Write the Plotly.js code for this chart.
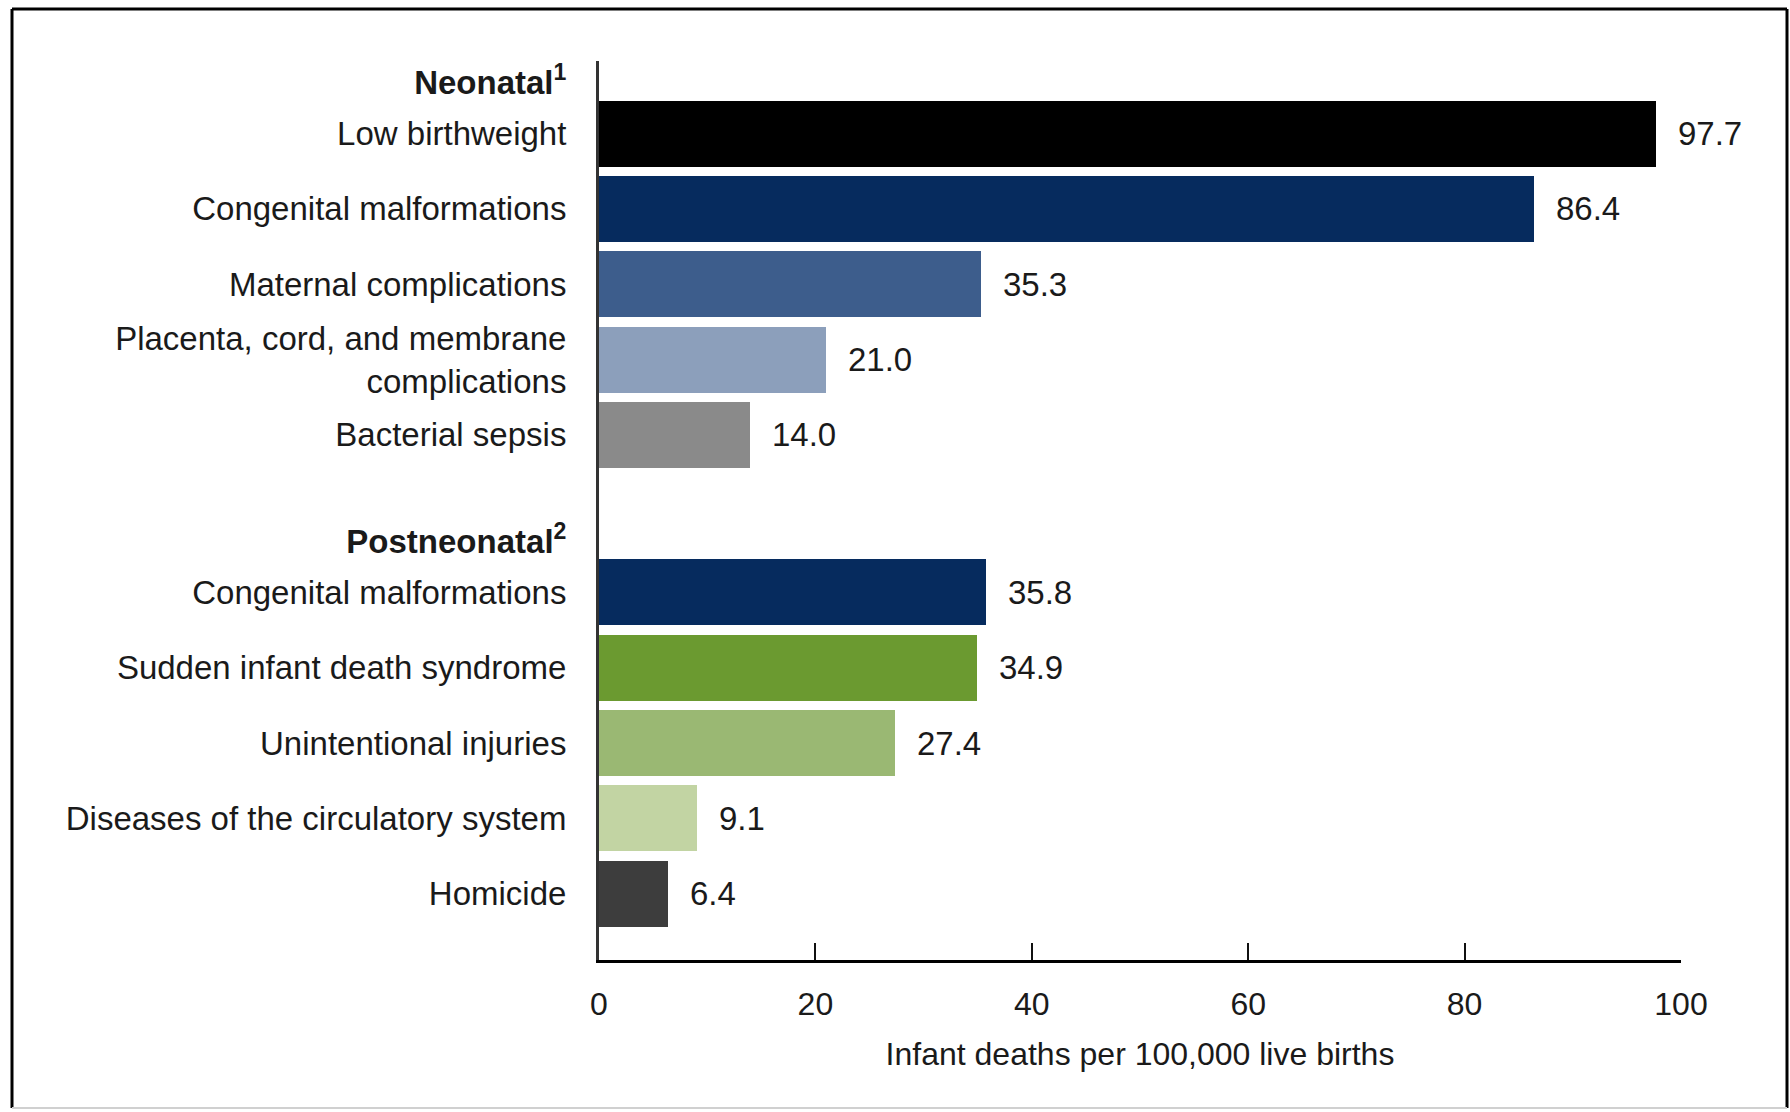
<!DOCTYPE html>
<html>
<head>
<meta charset="utf-8">
<script src="https://cdn.plot.ly/plotly-3.0.1.min.js"></script>
<style>
  html, body { margin: 0; padding: 0; background: #ffffff; }
  #chart { width: 1790px; height: 1112px; }
</style>
</head>
<body>
<div id="chart"></div>
<script>
// ---- Data ----
const groupHeaders = ["Neonatal<sup>1</sup>", "Postneonatal<sup>2</sup>"];
const neonatalCauses = [
  "Low birthweight",
  "Congenital malformations",
  "Maternal complications",
  "Placenta, cord, and membrane<br>complications",
  "Bacterial sepsis"
];
const neonatalRates = [97.7, 86.4, 35.3, 21.0, 14.0];
const postneonatalCauses = [
  "Congenital malformations",
  "Sudden infant death syndrome",
  "Unintentional injuries",
  "Diseases of the circulatory system",
  "Homicide"
];
const postneonatalRates = [35.8, 34.9, 27.4, 9.1, 6.4];
const xTickValues = [0, 20, 40, 60, 80, 100];
const xAxisTitle = "Infant deaths per 100,000 live births";

// ---- Styles ----
const neonatalColors = ["#000000", "#062b5e", "#3d5d8c", "#8c9fbb", "#8a8a8a"];
const postneonatalColors = ["#062b5e", "#6b9a30", "#9ab873", "#c2d4a3", "#3d3d3d"];
const FONT = "Liberation Sans, Arial, Helvetica, sans-serif";
const TXT = "#1a1a1a";

// ---- Layout positions (computed) ----
const groupGap = 6.09;        // slot where the second group starts
const headerOffset = -0.68;   // header sits above first bar of group
const posNeo = neonatalCauses.map((_, i) => i);
const posPost = postneonatalCauses.map((_, i) => groupGap + i);

const yPos = posNeo.concat(posPost);
const xVals = neonatalRates.concat(postneonatalRates);
const colors = neonatalColors.concat(postneonatalColors);

const tickvals = [posNeo[0] + headerOffset].concat(posNeo, [posPost[0] + headerOffset], posPost);
const ticktext = ["<b>" + groupHeaders[0] + "</b>"].concat(neonatalCauses,
                  ["<b>" + groupHeaders[1] + "</b>"], postneonatalCauses);

const W = 1790, H = 1112;
const M = { l: 599, r: 109, t: 61, b: 152 };
const pw = W - M.l - M.r, ph = H - M.t - M.b;
const px2x = p => (p - M.l) / pw;
const py2y = p => 1 - (p - M.t) / ph;

const trace = {
  type: "bar",
  orientation: "h",
  x: xVals,
  y: yPos,
  width: 0.876,
  marker: { color: colors, line: { width: 0 } },
  hoverinfo: "x",
  showlegend: false
};

const annotations = xVals.map((v, i) => ({
  x: v, y: yPos[i], xref: "x", yref: "y",
  text: v.toFixed(1),
  showarrow: false,
  xanchor: "left", yanchor: "middle",
  xshift: 20,
  font: { family: FONT, size: 33, color: TXT }
}));

const border = { type: "line", xref: "paper", yref: "paper", layer: "above" };
const shapes = [
  Object.assign({}, border, { x0: px2x(12), x1: px2x(1787), y0: py2y(9), y1: py2y(9), line: { color: "#000", width: 3 } }),
  Object.assign({}, border, { x0: px2x(12), x1: px2x(12), y0: py2y(9), y1: py2y(1108), line: { color: "#000", width: 3 } }),
  Object.assign({}, border, { x0: px2x(1787), x1: px2x(1787), y0: py2y(9), y1: py2y(1108), line: { color: "#000", width: 3 } }),
  Object.assign({}, border, { x0: px2x(12), x1: px2x(1787), y0: py2y(1108), y1: py2y(1108), line: { color: "#d0d0d0", width: 2 } })
];

const layout = {
  width: W, height: H,
  margin: M,
  paper_bgcolor: "#ffffff",
  plot_bgcolor: "#ffffff",
  font: { family: FONT, color: TXT },
  xaxis: {
    range: [0, 100],
    tickvals: xTickValues,
    ticktext: xTickValues.map(String),
    ticks: "inside",
    ticklen: 17,
    tickwidth: 2,
    tickcolor: "#111",
    showline: true,
    linecolor: "#000",
    linewidth: 3,
    showgrid: false,
    zeroline: false,
    tickfont: { family: FONT, size: 32, color: TXT },
    ticklabelstandoff: 14,
    title: { text: xAxisTitle, font: { family: FONT, size: 32, color: TXT }, standoff: 22 },
    automargin: false,
    fixedrange: true
  },
  yaxis: {
    range: [10.97, -0.963],
    tickvals: tickvals,
    ticktext: ticktext,
    ticks: "",
    showline: true,
    linecolor: "#333",
    linewidth: 3,
    showgrid: false,
    zeroline: false,
    tickfont: { family: FONT, size: 33, color: TXT },
    ticklabelstandoff: 23,
    automargin: false,
    fixedrange: true
  },
  annotations: annotations,
  shapes: shapes,
  bargap: 0
};

Plotly.newPlot("chart", [trace], layout, { displayModeBar: false, staticPlot: true });
</script>
</body>
</html>
